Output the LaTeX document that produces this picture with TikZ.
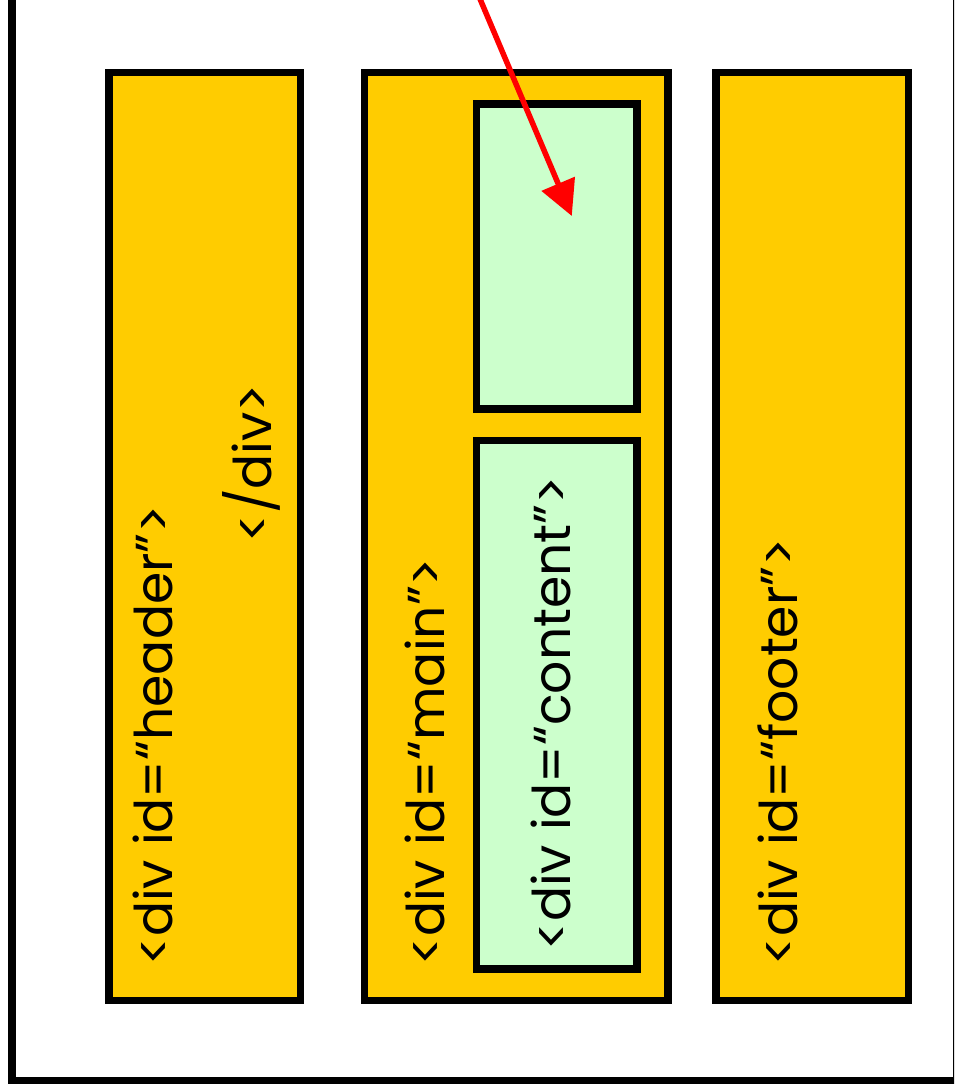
\documentclass[tikz,border=0pt]{standalone}
\usepackage{fontspec}
\setmainfont{Poppins}
\usetikzlibrary{arrows.meta}
\definecolor{divyellow}{HTML}{FFCC00}
\definecolor{divgreen}{HTML}{CCFFCC}
\begin{document}
\begin{tikzpicture}[x=1pt, y=-1pt,
    block/.style={rectangle, draw=black, line width=7.5pt, fill=divyellow,
        minimum width=191.4pt, minimum height=928.4pt, inner sep=0pt},
    inset/.style={block, fill=divgreen, minimum width=160.4pt},
    code/.style={rotate=90, anchor=base west, inner sep=0pt,
        font=\fontsize{52}{60}\selectfont},
    pointer/.style={draw=red, line width=5.5pt,
        -{Triangle[length=35pt, width=35pt]}}
]
    \clip (0,0) rectangle (954,1092);
    \draw[line width=7.5pt] (12.2,-40) rectangle (956.5,1080.5);
    \node[block] (header) at (204.6,536.5) {};
    \node[block, minimum width=303.7pt] (main) at (516.3,536.5) {};
    \node[block, minimum width=192.1pt] (footer) at (812.2,536.5) {};
    \node[inset, minimum height=304.6pt] (slot) at (556.7,256.5) {};
    \node[inset, minimum height=528.3pt] (content) at (556.7,704.7) {};
    \node[code] (headertext) at (172,966) {<div id=“header”>};
    \node[code] (closetext) at (271.5,543) {</div>};
    \node[code] (maintext) at (444,966) {<div id=“main”>};
    \node[code] (contenttext) at (570,951) {<div id=“content”>};
    \node[code] (footertext) at (797,966) {<div id=“footer”>};
    % arrow comes in from above the page
    \coordinate (from) at (455.1,-60);
    \coordinate (drop) at (571.8,216);
    \draw[pointer] (from) -- (drop);
\end{tikzpicture}
\end{document}
